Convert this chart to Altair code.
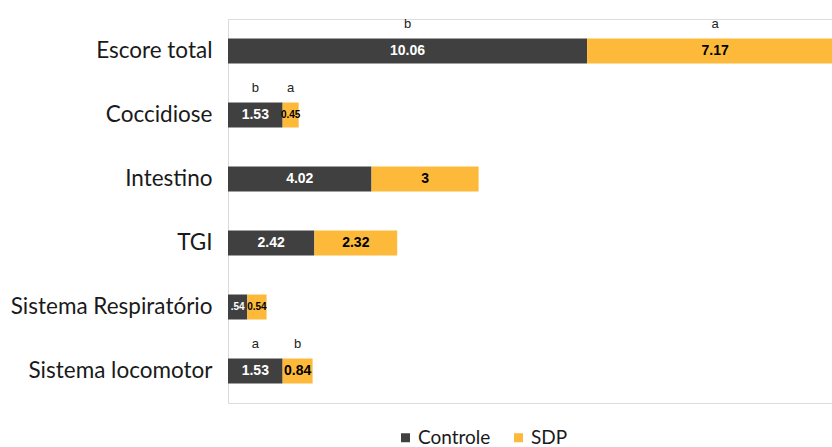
import altair as alt
import pandas as pd

categories = ["Escore total", "Coccidiose", "Intestino", "TGI", "Sistema Respiratório", "Sistema locomotor"]
controle = [10.06, 1.53, 4.02, 2.42, 0.54, 1.53]
sdp = [7.17, 0.45, 3.0, 2.32, 0.54, 0.84]
letters_controle = ["b", "b", "", "", "", "a"]
letters_sdp = ["a", "a", "", "", "", "b"]
groups = ["Controle", "SDP"]
colors = ["#404040", "#FDB93A"]

rows = []
for i, c in enumerate(categories):
    rows.append(dict(cat=c, group="Controle", value=controle[i], start=0.0,
                     end=controle[i], letter=letters_controle[i],
                     label=f"{controle[i]:.2f}"))
    rows.append(dict(cat=c, group="SDP", value=sdp[i], start=controle[i],
                     end=controle[i] + sdp[i], letter=letters_sdp[i],
                     label=f"{sdp[i]:g}" if sdp[i] != 0.45 and sdp[i] != 0.54 else f"{sdp[i]:.2f}"))
df = pd.DataFrame(rows)
df.loc[(df.cat == "Sistema Respiratório") & (df.group == "Controle"), "label"] = ".54"
df["mid"] = (df["start"] + df["end"]) / 2

xscale = alt.Scale(domain=[0, 16.92], nice=False, zero=True)
yenc = alt.Y("cat:N", sort=categories, title=None,
             scale=alt.Scale(paddingInner=0, paddingOuter=0),
             axis=alt.Axis(ticks=False, labelFont="Lato", labelFontSize=22.5,
                           labelColor="#1a1a1a", labelPadding=16,
                           domainColor="#d9d9d9", domainWidth=1, labelLimit=300))

base = alt.Chart(df)

bars = base.mark_bar(size=25, clip=True).encode(
    x=alt.X("start:Q", scale=xscale, axis=None),
    x2="end:Q",
    y=yenc,
    color=alt.Color("group:N", scale=alt.Scale(domain=groups, range=colors),
                    legend=alt.Legend(title=None, orient="none", direction="horizontal",
                                      legendX=168, legendY=409, symbolType="square",
                                      symbolSize=81, symbolStrokeWidth=0,
                                      labelFont="Lato", labelFontSize=19,
                                      labelColor="#1a1a1a", labelOffset=3,
                                      columnPadding=18)),
)

vals = base.mark_text(font="Liberation Sans", fontWeight="bold", clip=True).encode(
    x=alt.X("mid:Q", scale=xscale, axis=None),
    y=yenc,
    text="label:N",
    color=alt.condition(alt.datum.group == "Controle", alt.value("white"), alt.value("black")),
    size=alt.condition(alt.datum.value < 0.6, alt.value(10), alt.value(14)),
)

lets = base.mark_text(font="Liberation Sans", fontSize=13, color="#222", yOffset=-27).encode(
    x=alt.X("mid:Q", scale=xscale, axis=None),
    y=yenc,
    text="letter:N",
)

chart = alt.layer(bars, vals, lets).properties(
    width=604, height=384,
    autosize=alt.AutoSizeParams(type="none"),
    padding={"left": 228, "top": 19, "right": 0, "bottom": 44},
).configure_view(stroke=None).configure(background="white")

chart.save("out.html", embed_options={"renderer": "svg", "actions": False})
